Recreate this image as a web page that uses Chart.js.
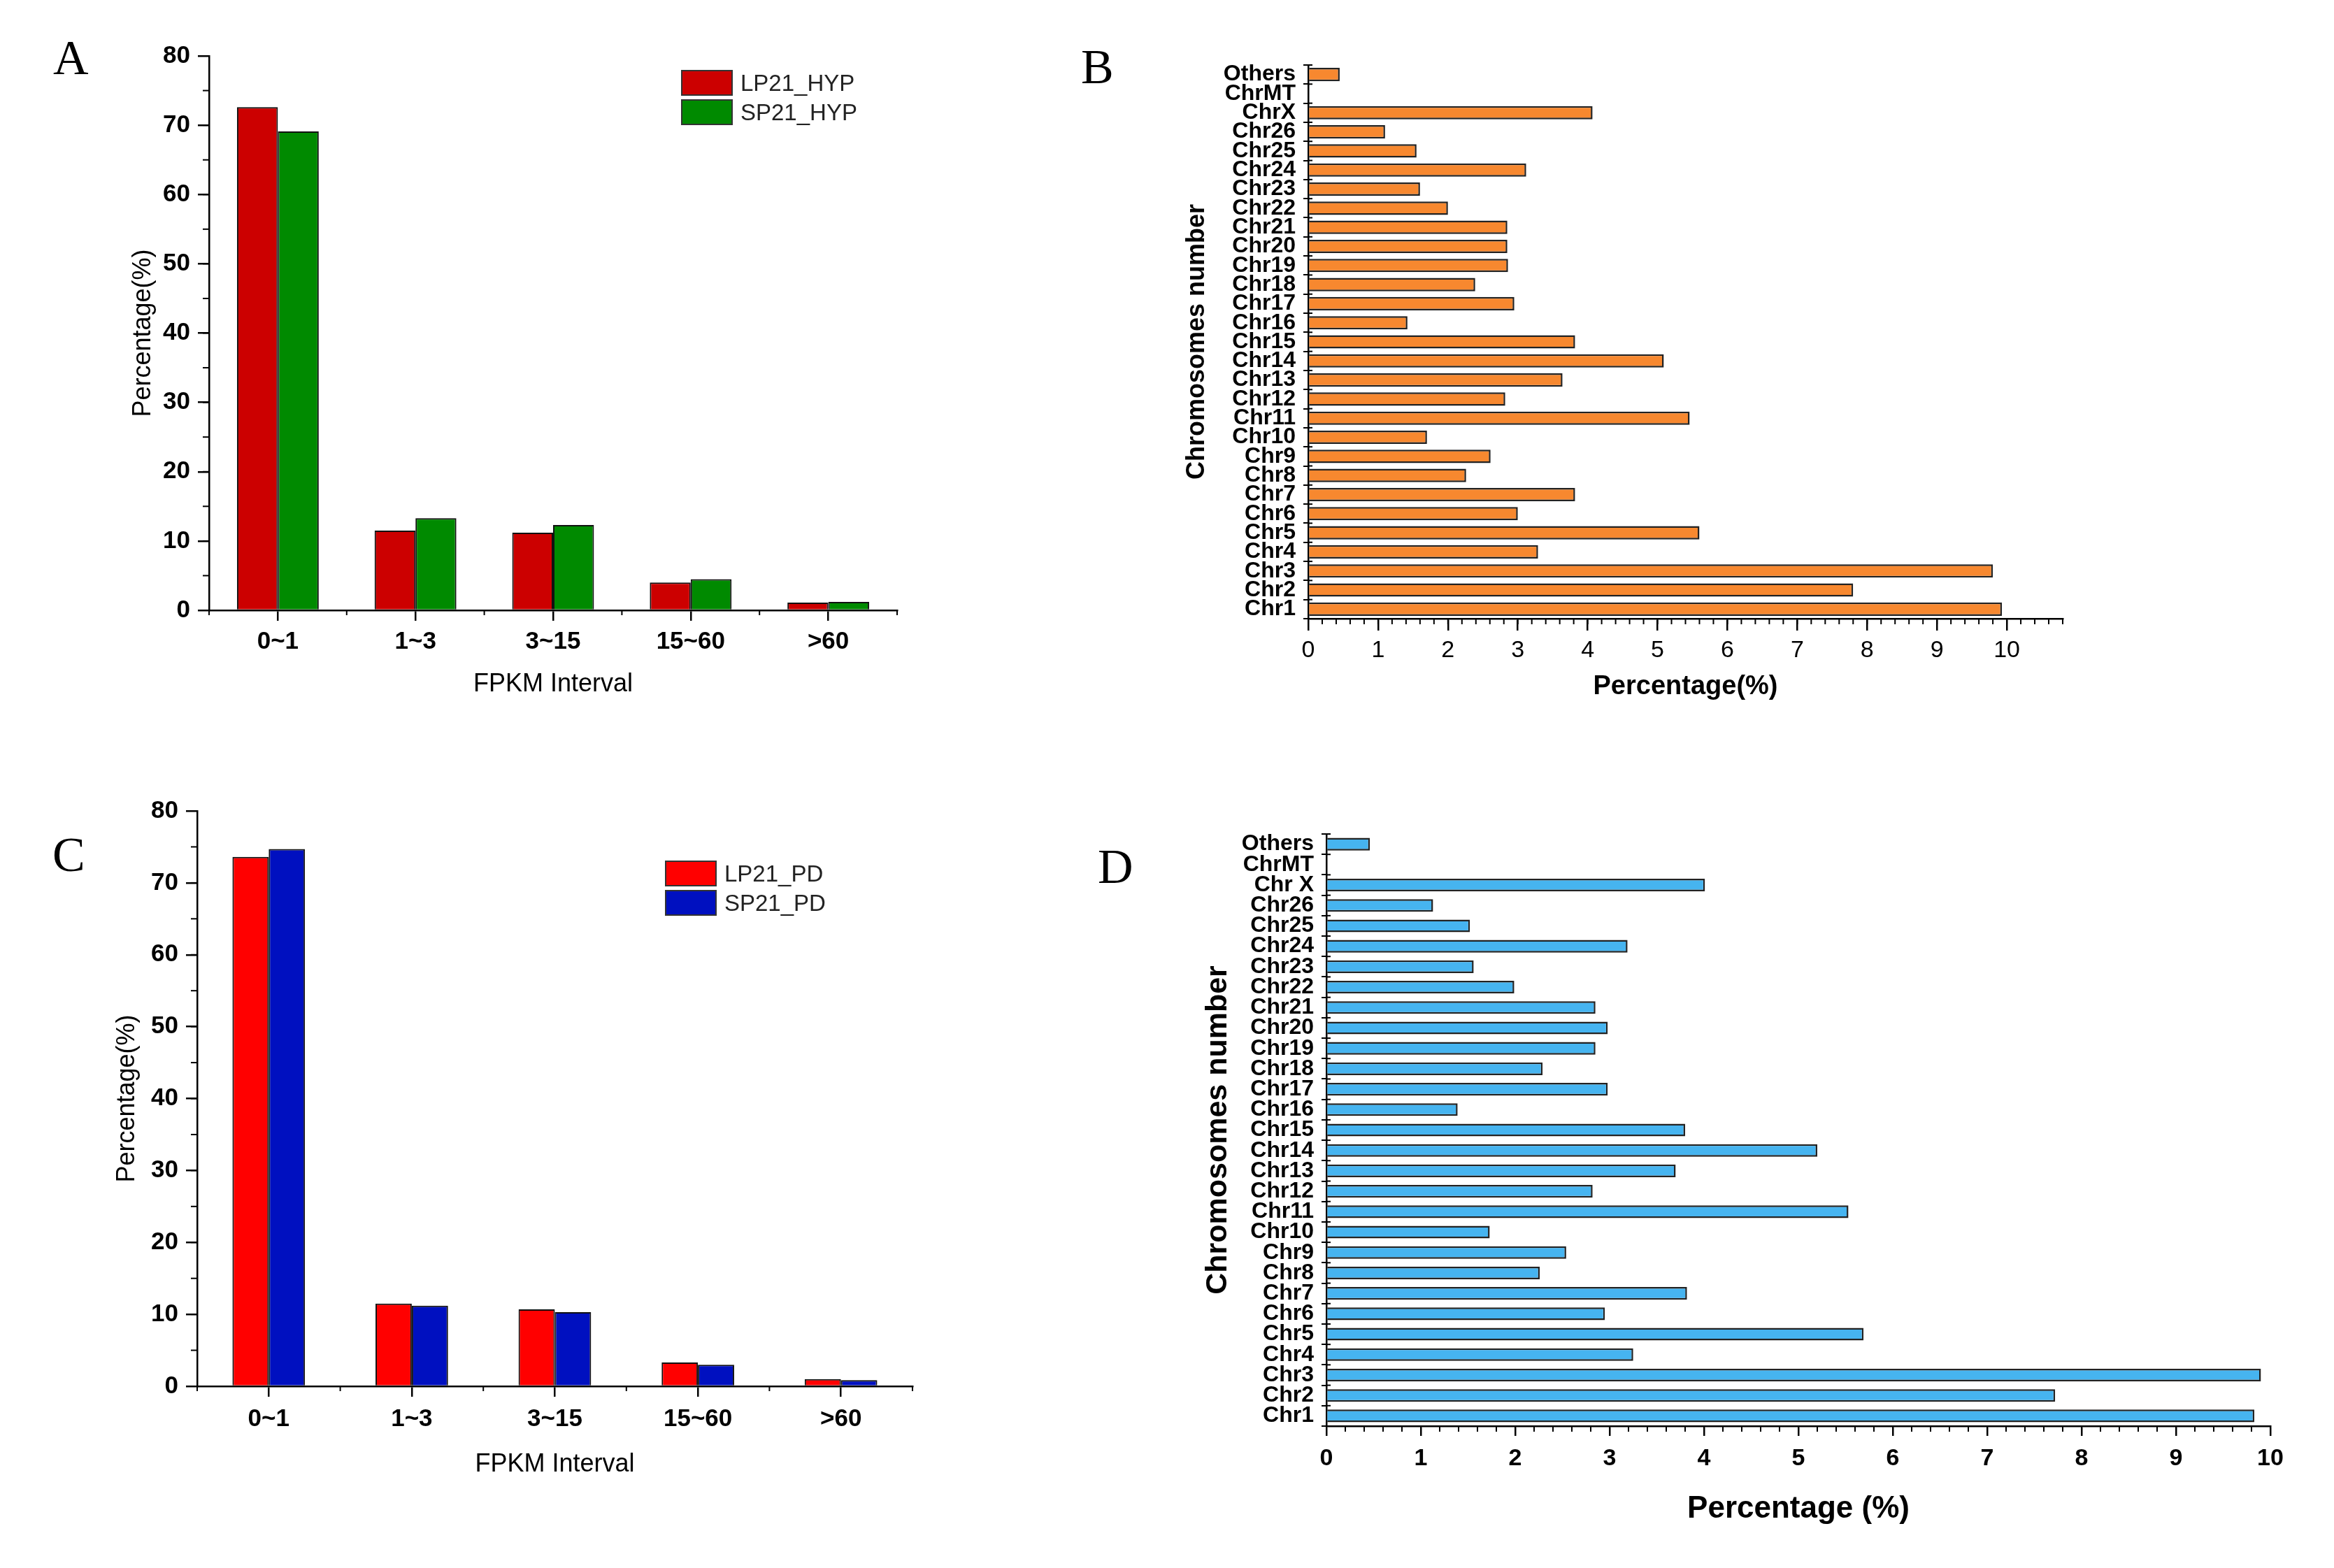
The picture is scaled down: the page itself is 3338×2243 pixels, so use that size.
<!DOCTYPE html>
<html>
<head>
<meta charset="utf-8">
<script src="https://cdn.jsdelivr.net/npm/chart.js@4.4.1/dist/chart.umd.min.js"></script>
<style>
  html, body { margin: 0; padding: 0; background: #fff; }
  #page { position: relative; width: 3338px; height: 2243px; overflow: hidden; background: #fff; }
  canvas { position: absolute; }
  .letter { position: absolute; font-family: 'Liberation Serif', 'Times New Roman', serif; font-size: 70px; line-height: 70px; color: #000; }
  .legend { position: absolute; font-family: 'Liberation Sans', Arial, sans-serif; font-size: 33px; color: #222; }
  .legend .row { display: flex; align-items: center; height: 37px; margin-bottom: 5px; }
  .legend .box { width: 74px; height: 37px; box-sizing: border-box; border: 2px solid #333; margin-right: 11px; }
</style>
</head>
<body>
<div id="page">
  <canvas id="chartA" width="1450" height="1100" style="left:0px;top:0px;"></canvas>
  <canvas id="chartB" width="1550" height="1100" style="left:1500px;top:0px;"></canvas>
  <canvas id="chartC" width="1450" height="1143" style="left:0px;top:1100px;"></canvas>
  <canvas id="chartD" width="1838" height="1143" style="left:1500px;top:1100px;"></canvas>

  <div class="letter" style="left:76px;top:48px;">A</div>
  <div class="letter" style="left:1546px;top:61px;">B</div>
  <div class="letter" style="left:75px;top:1188px;">C</div>
  <div class="letter" style="left:1570px;top:1205px;">D</div>

  <div class="legend" id="legendA" style="left:974px;top:100px;"></div>
  <div class="legend" id="legendC" style="left:951px;top:1231px;"></div>
</div>

<script>
// ---- data ----
const fpkmLabels = ['0~1', '1~3', '3~15', '15~60', '>60'];
const lp21Hyp = [72.6, 11.5, 11.2, 4.0, 1.1];
const sp21Hyp = [69.1, 13.3, 12.3, 4.5, 1.2];
const lp21Pd = [73.6, 11.5, 10.7, 3.3, 1.0];
const sp21Pd = [74.7, 11.2, 10.3, 3.0, 0.85];

const chrLabels = ['Chr1', 'Chr2', 'Chr3', 'Chr4', 'Chr5', 'Chr6', 'Chr7', 'Chr8', 'Chr9', 'Chr10',
  'Chr11', 'Chr12', 'Chr13', 'Chr14', 'Chr15', 'Chr16', 'Chr17', 'Chr18', 'Chr19', 'Chr20',
  'Chr21', 'Chr22', 'Chr23', 'Chr24', 'Chr25', 'Chr26', 'ChrX', 'ChrMT', 'Others'];
const chrLabelsD = chrLabels.map(l => l === 'ChrX' ? 'Chr X' : l);

const hypChr = [9.93, 7.80, 9.80, 3.29, 5.60, 3.00, 3.82, 2.26, 2.61, 1.70,
  5.46, 2.82, 3.64, 5.09, 3.82, 1.42, 2.95, 2.39, 2.86, 2.85,
  2.85, 2.00, 1.60, 3.12, 1.55, 1.10, 4.07, 0, 0.45];
const pdChr = [9.83, 7.72, 9.90, 3.25, 5.69, 2.95, 3.82, 2.26, 2.54, 1.73,
  5.53, 2.82, 3.70, 5.20, 3.80, 1.39, 2.98, 2.29, 2.85, 2.98,
  2.85, 1.99, 1.56, 3.19, 1.52, 1.13, 4.01, 0, 0.46];

const hypNames = ['LP21_HYP', 'SP21_HYP'];
const hypColors = ['#cc0000', '#008a00'];
const pdNames = ['LP21_PD', 'SP21_PD'];
const pdColors = ['#ff0000', '#0010c0'];

Chart.defaults.font.family = "'Liberation Sans', Arial, sans-serif";
Chart.defaults.color = '#000';
Chart.defaults.animation = false;

// minor ticks and category boundary ticks, placed through the chart's scales
const extraTicks = {
  id: 'extraTicks',
  afterDraw(chart, args, opts) {
    const ctx = chart.ctx;
    ctx.save();
    ctx.strokeStyle = '#000';
    ctx.lineWidth = 2;
    (opts.list || []).forEach(t => {
      const s = chart.scales[t.axis];
      const pixels = [];
      if (t.step) {
        const n = Math.round((s.max - s.min) / t.step);
        for (let k = 0; k <= n; k++) pixels.push(s.getPixelForValue(s.min + k * t.step));
      } else {
        const p0 = s.getPixelForValue(0);
        const d = s.getPixelForValue(1) - p0;
        for (let i = 0; i <= s.ticks.length; i++) pixels.push(p0 + (i - 0.5) * d);
      }
      const out = t.len || 0, inn = t.inner || 0;
      pixels.forEach(p => {
        ctx.beginPath();
        if (s.isHorizontal()) {
          ctx.moveTo(p, s.top - inn);
          ctx.lineTo(p, s.top + out);
        } else {
          ctx.moveTo(s.right + inn, p);
          ctx.lineTo(s.right - out, p);
        }
        ctx.stroke();
      });
    });
    ctx.restore();
  }
};

function makeLegend(id, names, colors) {
  const el = document.getElementById(id);
  names.forEach((name, i) => {
    const row = document.createElement('div');
    row.className = 'row';
    const box = document.createElement('div');
    box.className = 'box';
    box.style.background = colors[i];
    const txt = document.createElement('span');
    txt.textContent = name;
    row.appendChild(box);
    row.appendChild(txt);
    el.appendChild(row);
  });
}

const axisLine = { display: true, color: '#000', width: 2.5 };

function fpkmChart(id, a, b, names, colors, box) {
  return new Chart(document.getElementById(id), {
    type: 'bar',
    data: {
      labels: fpkmLabels,
      datasets: [a, b].map((d, i) => ({
        label: names[i],
        data: d,
        backgroundColor: colors[i],
        borderColor: '#111',
        borderWidth: 2,
        borderSkipped: 'bottom',
        categoryPercentage: box.group,
        barPercentage: 1
      }))
    },
    options: {
      responsive: false,
      devicePixelRatio: 1,
      layout: { padding: { top: box.padTop, right: box.padRight, left: 0, bottom: 0 } },
      plugins: {
        legend: { display: false },
        tooltip: { enabled: false },
        extraTicks: { list: [{ axis: 'y', step: 5, len: 9 }, { axis: 'x', len: 7 }] }
      },
      scales: {
        x: {
          offset: true,
          grid: { offset: false, drawOnChartArea: false, tickLength: 15, color: '#000', lineWidth: 2.5 },
          border: axisLine,
          ticks: { font: { size: 35, weight: 'bold' }, padding: box.xPad, autoSkip: false, maxRotation: 0 },
          title: { display: true, text: 'FPKM Interval', font: { size: 36 }, padding: { top: 0, bottom: box.xTitlePad } },
          afterFit: s => { s.height = box.xH; }
        },
        y: {
          min: 0, max: 80,
          grid: { drawOnChartArea: false, tickLength: 16, color: '#000', lineWidth: 2.5 },
          border: axisLine,
          ticks: { stepSize: 10, font: { size: 35, weight: 'bold' }, padding: 11 },
          title: { display: true, text: 'Percentage(%)', font: { size: 36 }, padding: { top: box.yTitlePad, bottom: 0 } },
          afterFit: s => { s.width = box.yW; }
        }
      }
    },
    plugins: [extraTicks]
  });
}

function chrChart(id, labels, data, color, box) {
  return new Chart(document.getElementById(id), {
    type: 'bar',
    data: {
      labels: labels,
      datasets: [{
        data: data,
        backgroundColor: color,
        borderColor: '#222',
        borderWidth: 2.5,
        borderSkipped: 'left',
        barPercentage: box.barPct,
        categoryPercentage: 1
      }]
    },
    options: {
      indexAxis: 'y',
      responsive: false,
      devicePixelRatio: 1,
      layout: { padding: { top: box.padTop, right: box.padRight, left: 0, bottom: 0 } },
      plugins: {
        legend: { display: false },
        tooltip: { enabled: false },
        extraTicks: { list: [{ axis: 'x', step: 0.2, len: 8 }, { axis: 'y', len: 0, inner: 6 }] }
      },
      scales: {
        y: {
          reverse: true,
          offset: true,
          grid: { offset: true, drawOnChartArea: false, tickLength: 7, color: '#000', lineWidth: 2 },
          border: axisLine,
          ticks: { autoSkip: false, font: { size: box.yFont, weight: 'bold' }, padding: 11 },
          title: { display: true, text: 'Chromosomes number', font: { size: box.yTitleFont, weight: 'bold' }, padding: { top: box.yTitlePad, bottom: 0 } },
          afterFit: s => { s.width = box.yW; }
        },
        x: {
          min: 0, max: box.xMax,
          grid: { drawOnChartArea: false, tickLength: box.xTick, color: '#000', lineWidth: 2.5 },
          border: axisLine,
          ticks: { stepSize: 1, includeBounds: false, font: { size: 34, weight: box.xBold ? 'bold' : 'normal' }, padding: box.xPad },
          title: { display: true, text: box.xTitle, font: { size: box.xTitleFont, weight: 'bold' }, padding: { top: 0, bottom: box.xTitlePad } },
          afterFit: s => { s.height = box.xH; }
        }
      }
    },
    plugins: [extraTicks]
  });
}

fpkmChart('chartA', lp21Hyp, sp21Hyp, hypNames, hypColors,
  { padTop: 80, padRight: 167, yW: 299, xH: 227, group: 0.594, xPad: 9, xTitlePad: 99, yTitlePad: 183 });
fpkmChart('chartC', lp21Pd, sp21Pd, pdNames, pdColors,
  { padTop: 60, padRight: 145, yW: 282, xH: 260, group: 0.507, xPad: 11, xTitlePad: 126, yTitlePad: 160 });

chrChart('chartB', chrLabels, hypChr, '#f7882f',
  { padTop: 93, padRight: 100, yW: 371, xH: 215, barPct: 0.7, yFont: 32, yTitleFont: 36, yTitlePad: 190,
    xMax: 10.8, xTick: 17, xBold: false, xPad: 8, xTitle: 'Percentage(%)', xTitleFont: 38, xTitlePad: 95 });
chrChart('chartD', chrLabelsD, pdChr, '#46b4f0',
  { padTop: 93, padRight: 91, yW: 397, xH: 203, barPct: 0.62, yFont: 32, yTitleFont: 43, yTitlePad: 216,
    xMax: 10, xTick: 14, xBold: true, xPad: 12, xTitle: 'Percentage (%)', xTitleFont: 44, xTitlePad: 58 });

makeLegend('legendA', hypNames, hypColors);
makeLegend('legendC', pdNames, pdColors);
</script>
</body>
</html>
